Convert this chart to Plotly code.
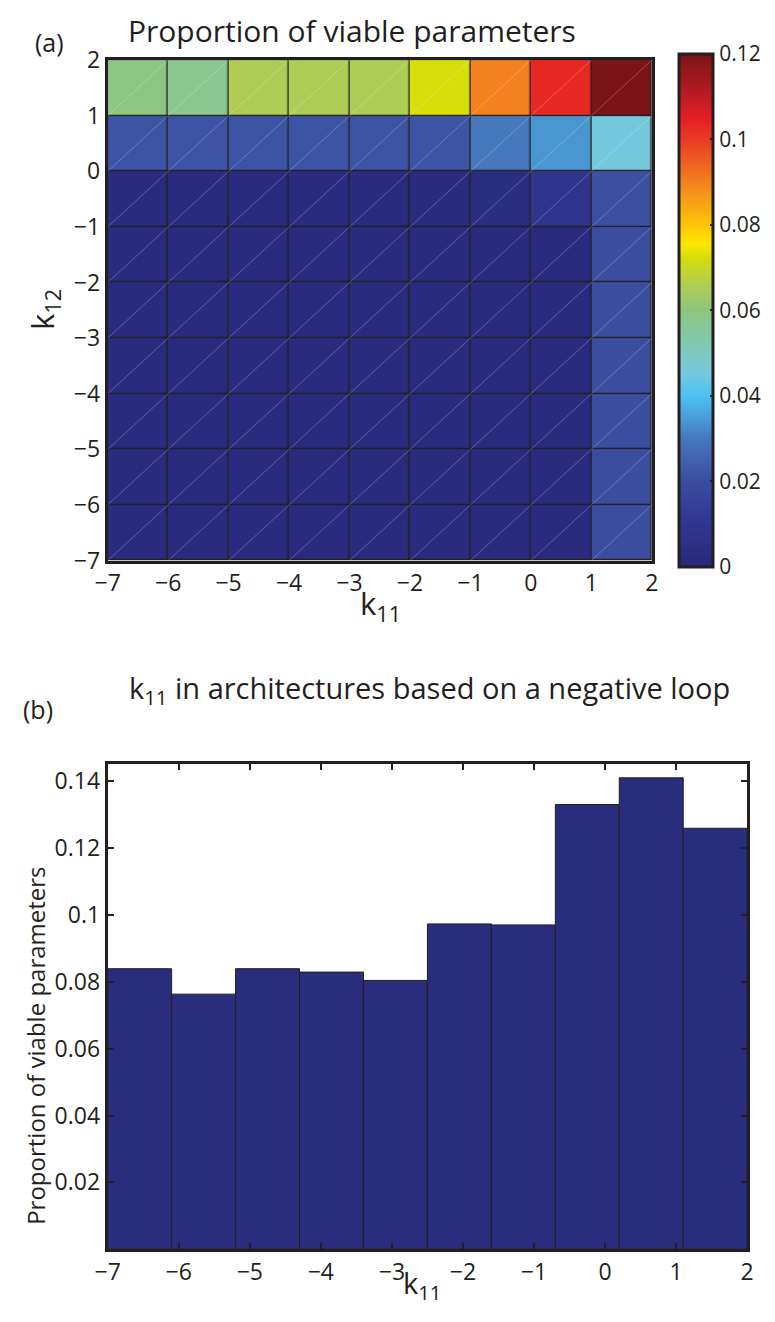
import plotly.graph_objects as go

# ---------------- data ----------------
# (a) heatmap: k11 columns (-7..2) and k12 rows (-7..2), one value per cell
k11_edges = [-7, -6, -5, -4, -3, -2, -1, 0, 1, 2]
k12_edges = [-7, -6, -5, -4, -3, -2, -1, 0, 1, 2]
# rows from bottom (k12 in [-7,-6]) to top (k12 in [1,2])
prop_row_m7 = [0.002, 0.002, 0.002, 0.002, 0.002, 0.002, 0.002, 0.002, 0.0200]
prop_row_m6 = [0.002, 0.002, 0.002, 0.002, 0.002, 0.002, 0.002, 0.002, 0.0200]
prop_row_m5 = [0.002, 0.002, 0.002, 0.002, 0.002, 0.002, 0.002, 0.002, 0.0200]
prop_row_m4 = [0.002, 0.002, 0.002, 0.002, 0.002, 0.002, 0.002, 0.002, 0.0200]
prop_row_m3 = [0.002, 0.002, 0.002, 0.002, 0.002, 0.002, 0.002, 0.002, 0.0200]
prop_row_m2 = [0.002, 0.002, 0.002, 0.002, 0.002, 0.002, 0.002, 0.002, 0.0200]
prop_row_m1 = [0.002, 0.002, 0.002, 0.002, 0.002, 0.002, 0.003, 0.009, 0.0205]
prop_row_0 = [0.0215, 0.0215, 0.0215, 0.0215, 0.0215, 0.0215, 0.030, 0.034, 0.0456]
prop_row_1 = [0.0588, 0.057, 0.0654, 0.0654, 0.0654, 0.0726, 0.090, 0.103, 0.120]
heat_rows = [prop_row_m7, prop_row_m6, prop_row_m5, prop_row_m4, prop_row_m3,
             prop_row_m2, prop_row_m1, prop_row_0, prop_row_1]
cbar_ticks = [0, 0.02, 0.04, 0.06, 0.08, 0.1, 0.12]
cbar_labels = ["0", "0.02", "0.04", "0.06", "0.08", "0.1", "0.12"]

# (b) histogram of k11
k11_bin_edges = [-7.0, -6.1, -5.2, -4.3, -3.4, -2.5, -1.6, -0.7, 0.2, 1.1, 2.0]
k11_bin_prop = [0.0839, 0.0763, 0.0839, 0.0829, 0.0804, 0.0973, 0.0970, 0.1330, 0.1410, 0.1259]
bar_yticks = [0.02, 0.04, 0.06, 0.08, 0.1, 0.12, 0.14]
bar_ylabels = ["0.02", "0.04", "0.06", "0.08", "0.1", "0.12", "0.14"]
int_ticks = [-7, -6, -5, -4, -3, -2, -1, 0, 1, 2]

# ---------------- style ----------------
PAGE_W, PAGE_H, BODY = 775, 1322, 8
W, H = PAGE_W - 2 * BODY, PAGE_H - 2 * BODY   # figure sits at (8, 8) in the page
FONT = "Open Sans"
AX = "#231f20"

jet_print = [
    [0.0, "#29297a"], [0.083, "#30358f"], [0.167, "#3b4d9f"], [0.25, "#4678bd"],
    [0.333, "#4dc2f0"], [0.375, "#72c8e0"], [0.42, "#80c8bd"], [0.5, "#8ec57c"],
    [0.55, "#b0ce52"], [0.6, "#d2dc10"], [0.63, "#fbe700"], [0.67, "#fcc20a"],
    [0.75, "#f4811f"], [0.83, "#ea3d24"], [0.875, "#e41e26"], [0.92, "#b81c20"],
    [1.0, "#7a1416"],
]

def px_x(p):
    return (p - BODY) / W

def px_y(p):
    return 1 - (p - BODY) / H

fig = go.Figure()

xc = [(a + b) / 2 for a, b in zip(k11_edges[:-1], k11_edges[1:])]
yc = [(a + b) / 2 for a, b in zip(k12_edges[:-1], k12_edges[1:])]

# dark backing so the cell gaps read as black grid lines
fig.add_shape(type="rect", xref="x", yref="y", layer="below",
              x0=k11_edges[0], x1=k11_edges[-1], y0=k12_edges[0], y1=k12_edges[-1],
              fillcolor=AX, line=dict(width=0))

HEAT_TOP, HEAT_BOT = 44, 557
fig.add_trace(go.Heatmap(
    x=xc, y=yc, z=heat_rows, zmin=0, zmax=0.12,
    colorscale=jet_print, xgap=1.3, ygap=1.3,
    xaxis="x", yaxis="y",
    colorbar=dict(
        x=px_x(691), xanchor="left", y=px_y((HEAT_TOP + HEAT_BOT) / 2), yanchor="middle",
        thickness=34, thicknessmode="pixels", len=HEAT_BOT - HEAT_TOP, lenmode="pixels",
        outlinewidth=3, outlinecolor=AX,
        tickvals=cbar_ticks, ticktext=cbar_labels,
        ticks="inside", ticklen=4, tickwidth=2, tickcolor=AX,
        tickfont=dict(family=FONT, size=21, color=AX),
        xpad=0, ypad=0,
    ),
    hoverinfo="skip",
))

# faint diagonal lines of the triangulated surface (one per cell)
dx, dy = [], []
for i in range(len(k11_edges) - 1):
    for j in range(len(k12_edges) - 1):
        dx += [k11_edges[i], k11_edges[i + 1], None]
        dy += [k12_edges[j], k12_edges[j + 1], None]
fig.add_trace(go.Scatter(x=dx, y=dy, mode="lines", xaxis="x", yaxis="y",
                         line=dict(color="rgba(255,255,255,0.35)", width=0.7),
                         hoverinfo="skip", showlegend=False))

bar_x = [(a + b) / 2 for a, b in zip(k11_bin_edges[:-1], k11_bin_edges[1:])]
bar_w = [b - a for a, b in zip(k11_bin_edges[:-1], k11_bin_edges[1:])]
fig.add_trace(go.Bar(
    x=bar_x, y=k11_bin_prop, width=bar_w, xaxis="x2", yaxis="y2",
    marker=dict(color="#2a2d7d", line=dict(color=AX, width=1)),
    showlegend=False, hoverinfo="skip",
))

axis_common = dict(showline=True, linewidth=3, linecolor=AX, showgrid=False,
                   zeroline=False, tickfont=dict(family=FONT, size=23, color=AX))

fig.update_layout(
    width=W, height=H,
    margin=dict(l=0, r=0, t=0, b=0),
    paper_bgcolor="white", plot_bgcolor="white",
    showlegend=False,
    xaxis=dict(domain=[px_x(98), px_x(663)], range=[-7, 2], tickvals=int_ticks,
               ticks="", mirror=True, anchor="y", **axis_common),
    yaxis=dict(domain=[px_y(HEAT_BOT), px_y(HEAT_TOP)], range=[-7, 2], tickvals=int_ticks,
               ticks="", mirror=True, anchor="x", **axis_common),
    xaxis2=dict(domain=[px_x(98), px_x(762)], range=[-7, 2], tickvals=int_ticks,
                ticks="inside", ticklen=6, tickwidth=2, tickcolor=AX,
                mirror="allticks", anchor="y2", **axis_common),
    yaxis2=dict(domain=[px_y(1263), px_y(766)], range=[0, 0.145], tickvals=bar_yticks,
                ticktext=bar_ylabels,
                ticks="inside", ticklen=6, tickwidth=2, tickcolor=AX,
                mirror="allticks", anchor="x2", **axis_common),
)

def txt(s, x, y, size, angle=0, xanchor="center"):
    fig.add_annotation(text=s, x=px_x(x), y=px_y(y), xref="paper", yref="paper",
                       showarrow=False, textangle=angle, xanchor=xanchor, yanchor="middle",
                       font=dict(family=FONT, size=size, color=AX))

txt("(a)", 38, 25, 25)
txt("Proportion of viable parameters", 352, 14, 30)
txt("k<sub>12</sub>", 32, 300, 31, angle=-90)
txt("k<sub>11</sub>", 381, 603, 31)
txt("(b)", 26, 709, 25)
txt("k<sub>11</sub> in architectures based on a negative loop", 432, 689, 29)
txt("Proportion of viable parameters", 23, 1054, 24, angle=-90)
txt("k<sub>11</sub>", 424, 1299, 29)

fig.write_html("out.html")
